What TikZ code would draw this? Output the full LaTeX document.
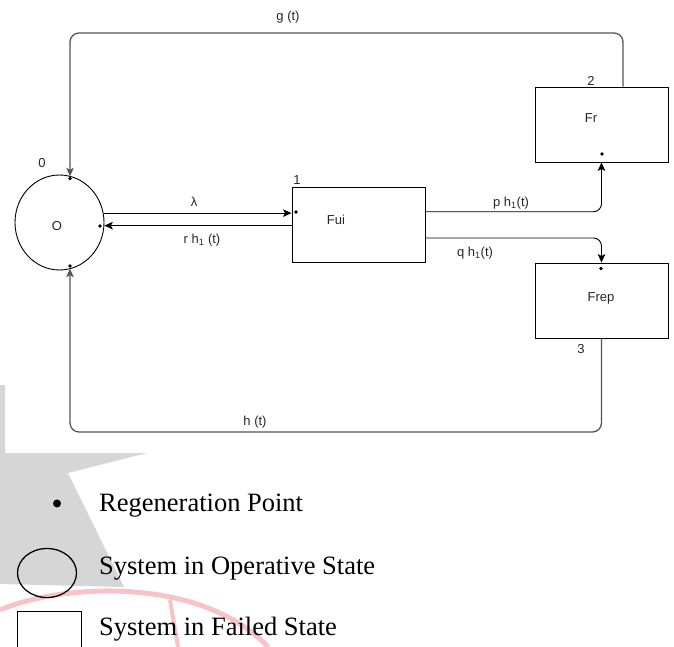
\documentclass[tikz,border=0pt]{standalone}
\usepackage{fontspec}
\setmainfont{Liberation Serif}
\newfontfamily\arialf{Liberation Sans}
\usetikzlibrary{shapes.geometric,arrows.meta,calc}
\definecolor{lbl}{HTML}{262626}
\definecolor{loopc}{HTML}{555555}
\definecolor{wmgray}{HTML}{D6D6D6}
\definecolor{wmpink}{HTML}{F8C3C7}
\tikzset{
  lab/.style={font=\arialf\fontsize{13}{15}\selectfont, text=lbl, inner sep=0pt},
  leg/.style={font=\fontsize{26.5}{30}\selectfont, anchor=base west, inner sep=0pt},
  statebox/.style={draw, line width=0.9pt, rectangle, minimum width=133pt, minimum height=75pt, inner sep=0pt},
  regdot/.style={circle, fill=black, inner sep=0pt, minimum size=3.8pt},
  arr/.style={line width=0.9pt, -{Stealth[length=8.5pt,width=7.5pt,inset=2pt]}},
  loopline/.style={line width=1.3pt, draw=loopc, rounded corners=9pt, -{Stealth[length=8.5pt,width=7.5pt,inset=2pt]}}
}
\begin{document}
\begin{tikzpicture}[x=1pt,y=-1pt]
\useasboundingbox (0,0) rectangle (674,647);
% watermark
\fill[wmgray] (0,385) -- (5,385) -- (5,453) -- (147,453) -- (68,473) -- (124,587) -- (0,584) -- cycle;
\draw[wmpink, line width=5pt] (0,610) .. controls (60,584) and (200,575) .. (268,647);
\draw[wmpink, line width=4pt] (170,600) -- (178,647);
% states
\node[draw, ellipse, line width=0.9pt, minimum width=89pt, minimum height=95pt, inner sep=0pt] (O) at (59.5,222.5) {};
\node[lab] (Olab) at (57,226) {O};
\node[lab] (Onum) at (42,163) {0};
\node[statebox] (Fui) at (358.5,224.5) {};
\node[lab] (Fuilab) at (336,220) {Fui};
\node[lab] (Fuinum) at (297,180) {1};
\node[statebox] (Fr) at (601.5,124.5) {};
\node[lab] (Frlab) at (591,118) {Fr};
\node[lab] (Frnum) at (591,81) {2};
\node[statebox] (Frep) at (601.5,300.5) {};
\node[lab] (Freplab) at (601,298) {Frep};
\node[lab] (Frepnum) at (581,349) {3};
% regeneration points
\coordinate (Otop) at (70,176.3);
\coordinate (Obot) at (70,268.7);
\node[regdot] (d1) at (70,178.5) {};
\node[regdot] (d2) at (100,226) {};
\node[regdot] (d3) at (70,266) {};
\node[regdot] (d4) at (296,212) {};
\node[regdot] (d5) at (602,154) {};
\node[regdot] (d6) at (601,268.5) {};
% corners of loops
\coordinate (gcorner) at (70,33);
\coordinate (hcorner) at (70,432);
% connectors
\draw[arr] (O.12.7) -- (O.12.7 -| Fui.west);
\draw[arr] (O.-4.1 -| Fui.west) -- (O.-4.1);
\draw[arr, rounded corners=8pt] ([yshift=12.8pt]Fui.east) -| (Fr.south);
\draw[arr, rounded corners=8pt] ([yshift=-13.5pt]Fui.east) -| (Frep.north);
\draw[loopline] ([xshift=21.5pt]Fr.north) |- (gcorner) -- (Otop);
\draw[loopline] (Frep.south) |- (hcorner) -- (Obot);
% connector labels
\node[lab] (lam) at (194,202) {λ};
\node[lab] (rh) at (202,240) {r h\textsubscript{1} (t)};
\node[lab] (ph) at (511,203) {p h\textsubscript{1}(t)};
\node[lab] (qh) at (475,253) {q h\textsubscript{1}(t)};
\node[lab] (gt) at (288,17) {g (t)};
\node[lab] (ht) at (255,422) {h (t)};
% legend
\node[circle, fill=black, inner sep=0pt, minimum size=8pt] (lgdot) at (57,503.5) {};
\node[leg] (lg1) at (99,511.5) {Regeneration Point};
\node[draw, ellipse, line width=1.3pt, minimum width=59pt, minimum height=49pt, inner sep=0pt] (lgell) at (47,573) {};
\node[leg] (lg2) at (99,574) {System in Operative State};
\node[draw, rectangle, line width=1.3pt, minimum width=64pt, minimum height=42pt, inner sep=0pt, anchor=north west] (lgbox) at (17,611) {};
\node[leg] (lg3) at (99,635) {System in Failed State};
\end{tikzpicture}
\end{document}
